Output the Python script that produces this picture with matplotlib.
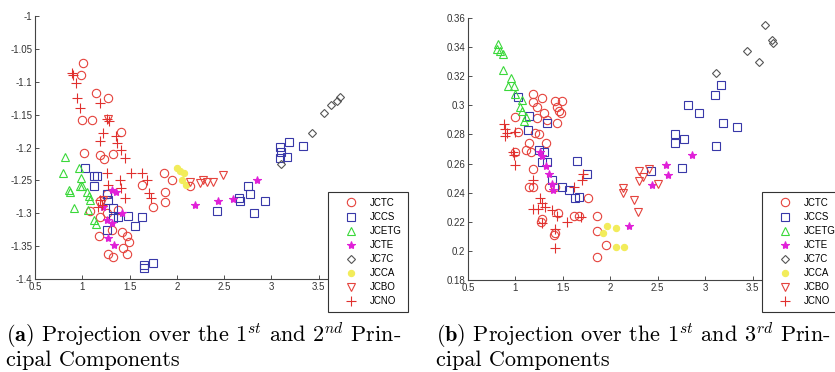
import matplotlib.pyplot as plt
from matplotlib.ticker import FuncFormatter

plt.rcParams["font.family"] = "Liberation Sans"
plt.rcParams["axes.unicode_minus"] = False
plt.rcParams["mathtext.fontset"] = "cm"

labels = ["JCTC", "JCCS", "JCETG", "JCTE", "JC7C", "JCCA", "JCBO", "JCNO"]

# (a) 1st vs 2nd principal component
a_jctc_x = [1.01, 0.99, 1.15, 1.27, 1.10, 1.00, 1.41, 1.02, 1.33, 1.19, 1.23, 1.86, 1.95, 1.63,
            1.87, 1.75, 1.87, 1.08, 1.19, 1.18, 1.42, 1.47, 1.49, 1.43, 1.27, 1.33, 1.47, 1.31,
            1.26, 1.38, 1.19, 2.14, 1.26]
a_jctc_y = [-1.072, -1.09, -1.117, -1.125, -1.158, -1.158, -1.176, -1.209, -1.21, -1.211, -1.218,
            -1.239, -1.249, -1.257, -1.268, -1.29, -1.283, -1.296, -1.305, -1.335, -1.328, -1.335,
            -1.344, -1.353, -1.362, -1.366, -1.362, -1.325, -1.30, -1.295, -1.282, -1.258, -1.27]
a_jccs_x = [1.03, 1.12, 1.16, 1.12, 1.26, 1.27, 1.33, 1.33, 1.38, 1.48, 1.63, 1.56, 1.26, 1.65,
            1.65, 1.75, 2.42, 2.75, 2.77, 2.66, 2.67, 2.93, 2.82, 3.09, 3.10, 3.09, 3.16, 3.19, 3.33]
a_jccs_y = [-1.231, -1.244, -1.243, -1.259, -1.27, -1.28, -1.292, -1.307, -1.305, -1.304, -1.306,
            -1.32, -1.325, -1.378, -1.383, -1.375, -1.296, -1.259, -1.271, -1.277, -1.282, -1.281,
            -1.30, -1.199, -1.207, -1.216, -1.214, -1.191, -1.198]
a_jcetg_x = [0.82, 0.80, 0.86, 0.87, 0.91, 0.96, 0.99, 1.00, 0.98, 1.07, 1.08, 1.06, 1.12, 1.15, 1.05]
a_jcetg_y = [-1.214, -1.239, -1.264, -1.267, -1.292, -1.231, -1.247, -1.258, -1.258, -1.274, -1.28,
             -1.295, -1.31, -1.317, -1.267]
a_jcte_x = [1.31, 1.36, 1.22, 1.26, 1.31, 1.27, 1.34, 1.42, 2.19, 2.43, 2.59, 2.85]
a_jcte_y = [-1.264, -1.267, -1.29, -1.31, -1.315, -1.338, -1.348, -1.30, -1.287, -1.282, -1.279, -1.249]
a_jc7c_x = [3.10, 3.43, 3.56, 3.63, 3.69, 3.72]
a_jc7c_y = [-1.225, -1.178, -1.148, -1.135, -1.13, -1.123]
a_jcca_x = [2.00, 2.03, 2.08, 2.05, 2.10]
a_jcca_y = [-1.231, -1.236, -1.239, -1.249, -1.257]
a_jcbo_x = [2.14, 2.28, 2.32, 2.24, 2.38, 2.49, 1.22, 1.27]
a_jcbo_y = [-1.252, -1.249, -1.252, -1.254, -1.252, -1.242, -1.28, -1.157]
a_jcno_x = [0.89, 0.90, 0.93, 0.94, 0.98, 1.19, 1.26, 1.28, 1.19, 1.36, 1.37, 1.41, 1.45, 1.22,
            1.26, 1.52, 1.63, 1.68, 1.71, 1.73, 1.40, 1.41, 1.45, 1.19, 1.21, 1.17, 1.27]
a_jcno_y = [-1.087, -1.09, -1.102, -1.125, -1.14, -1.133, -1.156, -1.16, -1.19, -1.183, -1.193,
            -1.204, -1.216, -1.178, -1.239, -1.239, -1.239, -1.249, -1.269, -1.277, -1.249, -1.262,
            -1.277, -1.28, -1.288, -1.29, -1.257]

# (b) 1st vs 3rd principal component
b_jctc_x = [1.18, 1.28, 1.19, 1.23, 1.42, 1.49, 1.44, 1.46, 1.48, 1.30, 1.00, 1.23, 1.33, 1.44,
            1.03, 1.21, 1.25, 1.32, 1.14, 1.11, 1.16, 1.00, 1.18, 1.14, 1.19, 1.35, 1.42, 1.28,
            1.27, 1.42, 1.41, 1.45, 1.76, 1.86, 1.86, 1.95, 1.86, 1.62, 1.67]
b_jctc_y = [0.308, 0.305, 0.302, 0.299, 0.303, 0.303, 0.299, 0.296, 0.295, 0.295, 0.292, 0.291,
            0.29, 0.288, 0.282, 0.281, 0.28, 0.274, 0.274, 0.269, 0.268, 0.268, 0.256, 0.244,
            0.244, 0.244, 0.244, 0.222, 0.22, 0.212, 0.211, 0.226, 0.236, 0.224, 0.214, 0.204,
            0.196, 0.224, 0.224]
b_jccs_x = [1.03, 1.14, 1.13, 1.33, 1.25, 1.30, 1.28, 1.33, 1.39, 1.49, 1.56, 1.65, 1.75, 1.67,
            1.63, 2.43, 2.68, 2.68, 2.78, 2.76, 2.82, 2.94, 3.10, 3.17, 3.19, 3.34, 3.11]
b_jccs_y = [0.306, 0.293, 0.283, 0.288, 0.269, 0.268, 0.261, 0.261, 0.249, 0.244, 0.242, 0.262,
            0.253, 0.237, 0.236, 0.255, 0.28, 0.274, 0.277, 0.257, 0.30, 0.295, 0.307, 0.314,
            0.288, 0.285, 0.272]
b_jcetg_x = [0.82, 0.84, 0.87, 0.87, 0.95, 0.92, 0.98, 1.00, 1.05, 1.07, 1.11, 1.09, 1.07, 0.81]
b_jcetg_y = [0.342, 0.337, 0.335, 0.324, 0.319, 0.313, 0.313, 0.308, 0.299, 0.296, 0.292, 0.289,
             0.304, 0.339]
b_jcte_x = [1.26, 1.28, 1.32, 1.35, 1.39, 1.40, 2.20, 2.44, 2.59, 2.61, 2.86]
b_jcte_y = [0.268, 0.265, 0.258, 0.253, 0.246, 0.242, 0.217, 0.245, 0.259, 0.252, 0.266]
b_jc7c_x = [3.11, 3.44, 3.57, 3.63, 3.70, 3.72]
b_jc7c_y = [0.322, 0.337, 0.33, 0.355, 0.345, 0.343]
b_jcca_x = [1.97, 2.06, 2.06, 2.14, 1.92]
b_jcca_y = [0.217, 0.216, 0.203, 0.203, 0.212]
b_jcbo_x = [2.13, 2.13, 2.25, 2.29, 2.30, 2.34, 2.30, 2.50, 2.41]
b_jcbo_y = [0.243, 0.24, 0.235, 0.227, 0.255, 0.251, 0.248, 0.246, 0.256]
b_jcno_x = [0.88, 0.89, 0.91, 0.89, 1.00, 0.97, 0.99, 1.00, 1.18, 1.26, 1.28, 1.24, 1.18, 1.31,
            1.39, 1.44, 1.54, 1.42, 1.42, 1.62, 1.70, 1.71, 1.69, 1.28]
b_jcno_y = [0.287, 0.284, 0.281, 0.279, 0.282, 0.268, 0.266, 0.259, 0.249, 0.236, 0.233, 0.229,
            0.229, 0.23, 0.228, 0.224, 0.22, 0.215, 0.202, 0.244, 0.249, 0.253, 0.223, 0.219]

styles = [("o", "#e5433d", 6), ("s", "#3838a8", 6), ("^", "#3ad83a", 6), ("*", "#e020d8", 6),
          ("D", "#555555", 4.5), (".", "#f2ec5a", 9), ("v", "#e5433d", 6), ("+", "#e0302e", 7)]

a_sets = [(a_jctc_x, a_jctc_y), (a_jccs_x, a_jccs_y), (a_jcetg_x, a_jcetg_y), (a_jcte_x, a_jcte_y),
          (a_jc7c_x, a_jc7c_y), (a_jcca_x, a_jcca_y), (a_jcbo_x, a_jcbo_y), (a_jcno_x, a_jcno_y)]
b_sets = [(b_jctc_x, b_jctc_y), (b_jccs_x, b_jccs_y), (b_jcetg_x, b_jcetg_y), (b_jcte_x, b_jcte_y),
          (b_jc7c_x, b_jc7c_y), (b_jcca_x, b_jcca_y), (b_jcbo_x, b_jcbo_y), (b_jcno_x, b_jcno_y)]

fig = plt.figure(figsize=(8.35, 3.72), dpi=100)
ax_a = fig.add_axes([35 / 835, 1 - 279 / 372, 331 / 835, 263 / 372])
ax_b = fig.add_axes([468 / 835, 1 - 280 / 372, 332 / 835, 262 / 372])

fmt = FuncFormatter(lambda v, p: "%g" % round(v, 3))

for ax, sets, ylim, yticks, lx in [
    (ax_a, a_sets, (-1.4, -1.0), [-1.4, -1.35, -1.3, -1.25, -1.2, -1.15, -1.1, -1.05, -1.0], 328),
    (ax_b, b_sets, (0.18, 0.36), [0.18, 0.2, 0.22, 0.24, 0.26, 0.28, 0.3, 0.32, 0.34, 0.36], 762),
]:
    for (xs, ys), (m, c, ms), lab in zip(sets, styles, labels):
        filled = m in (".", "*", "+")
        ax.plot(xs, ys, linestyle="none", marker=m, ms=ms, mec=c,
                mfc=c if filled else "none", mew=0.8, label=lab)
    ax.set_xlim(0.5, 4)
    ax.set_ylim(*ylim)
    ax.set_xticks([0.5, 1, 1.5, 2, 2.5, 3, 3.5])
    ax.set_yticks(yticks)
    ax.xaxis.set_major_formatter(fmt)
    ax.yaxis.set_major_formatter(fmt)
    ax.tick_params(direction="in", length=3, width=0.6, labelsize=7, colors="#333333", pad=2)
    for s in ["top", "right"]:
        ax.spines[s].set_visible(False)
    for s in ["left", "bottom"]:
        ax.spines[s].set_color("#444444")
        ax.spines[s].set_linewidth(0.8)
    leg = ax.legend(loc="upper left", bbox_to_anchor=(lx / 835, 1 - 192 / 372),
                    bbox_transform=fig.transFigure, numpoints=1, fontsize=7,
                    fancybox=False, framealpha=1, edgecolor="#333333",
                    handlelength=3.6, handletextpad=0.1, labelspacing=0.42,
                    borderpad=0.6, borderaxespad=0)
    leg.get_frame().set_linewidth(0.8)
    leg.set_zorder(10)

cap = dict(fontsize=16, family="cmr10", va="baseline")
fig.text(6 / 835, 1 - 342 / 372,
         r"$\mathbf{(a)}$ Projection over the $1^{st}$ and $2^{nd}$ Prin-", **cap)
fig.text(6 / 835, 1 - 366 / 372, "cipal Components", **cap)
fig.text(436 / 835, 1 - 342 / 372,
         r"$\mathbf{(b)}$ Projection over the $1^{st}$ and $3^{rd}$ Prin-", **cap)
fig.text(436 / 835, 1 - 366 / 372, "cipal Components", **cap)

fig.savefig("out.png", dpi=100)
